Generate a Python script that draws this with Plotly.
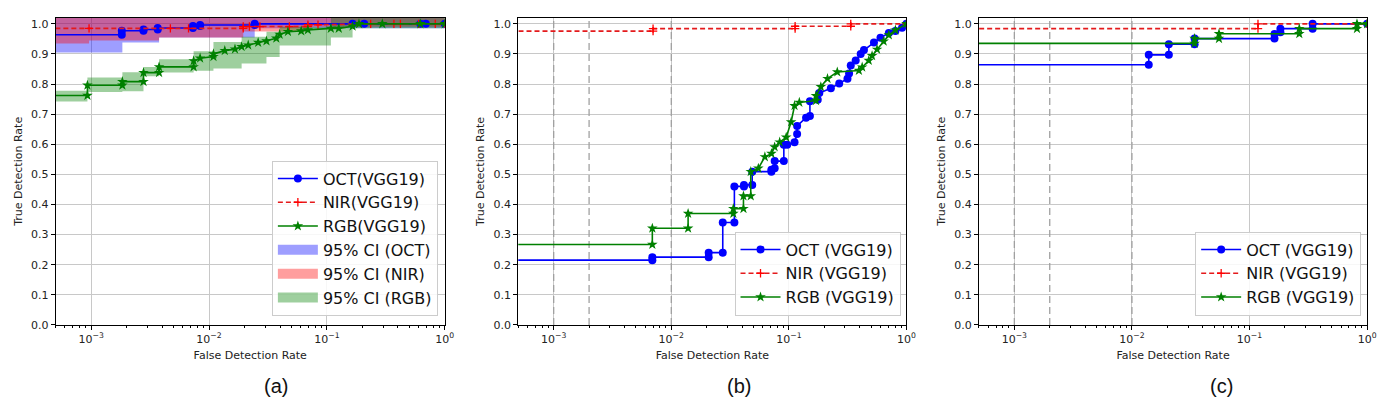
import plotly.graph_objects as go
from plotly.subplots import make_subplots

# ---------------- data ----------------
# (a) ROC corners, fpr=1e-5 stands for the clipped fpr=0 start
a_oct_fpr = [1e-5, 1.82e-3, 1.82e-3, 2.78e-3, 2.78e-3, 3.67e-3, 3.67e-3, 7.3e-3, 7.3e-3,
             8.4e-3, 8.4e-3, 0.0244, 0.0244, 0.165, 0.207, 0.62, 0.69, 1.0]
a_oct_tpr = [0.964, 0.964, 0.977, 0.977, 0.981, 0.981, 0.986, 0.986, 0.993,
             0.993, 0.996, 0.996, 1.0, 1.0, 1.0, 1.0, 1.0, 1.0]
a_nir_fpr = [1e-5, 9.6e-4, 4.7e-3, 6.7e-3, 0.0195, 0.0195, 0.022, 0.027, 0.048, 0.069,
             0.069, 0.084, 0.235, 0.37, 0.42, 0.6, 0.83, 1.0]
a_nir_tpr = [0.985, 0.985, 0.985, 0.985, 0.985, 0.991, 0.991, 0.991, 0.991, 0.991,
             0.997, 0.997, 1.0, 1.0, 1.0, 1.0, 1.0, 1.0]
a_rgb_fpr = [1e-5, 9.3e-4, 9.3e-4, 1.84e-3, 1.84e-3, 2.78e-3, 2.78e-3, 3.77e-3, 3.77e-3,
             7.4e-3, 7.4e-3, 8.4e-3, 0.0109, 0.0109, 0.0136, 0.0166, 0.0189, 0.0215,
             0.0261, 0.0307, 0.0372, 0.0397, 0.0467, 0.0605, 0.0689, 0.108, 0.126,
             0.165, 0.187, 0.295, 0.62, 1.0]
a_rgb_tpr = [0.762, 0.762, 0.796, 0.796, 0.808, 0.808, 0.838, 0.838, 0.857,
             0.857, 0.877, 0.886, 0.891, 0.9, 0.911, 0.916, 0.924, 0.929,
             0.938, 0.943, 0.952, 0.965, 0.974, 0.976, 0.98, 0.985, 0.985,
             0.992, 1.0, 1.0, 1.0, 1.0]

# (a) 95% confidence bands (step functions)
a_oct_ci_fpr = [1e-5, 1.84e-3, 3.77e-3, 0.0244, 1.0]
a_oct_ci_lo = [0.905, 0.938, 0.955, 0.985, 0.985]
a_oct_ci_hi = [1.03, 1.03, 1.03, 1.03, 1.03]
a_nir_ci_fpr = [1e-5, 9.6e-4, 3.77e-3, 0.0195, 0.069, 1.0]
a_nir_ci_lo = [0.935, 0.945, 0.955, 0.975, 0.99, 0.99]
a_nir_ci_hi = [1.03, 1.03, 1.03, 1.03, 1.03, 1.03]
a_rgb_ci_fpr = [1e-5, 9.3e-4, 1.84e-3, 2.78e-3, 3.77e-3, 7.4e-3, 0.0109, 0.0189,
                0.0307, 0.0397, 0.108, 0.165, 1.0]
a_rgb_ci_lo = [0.742, 0.774, 0.776, 0.826, 0.838, 0.844, 0.852, 0.868,
               0.89, 0.928, 0.955, 0.985, 0.985]
a_rgb_ci_hi = [0.778, 0.822, 0.839, 0.857, 0.882, 0.909, 0.94, 0.957,
               0.974, 0.99, 1.03, 1.03, 1.03]

# (b)
b_oct_fpr = [1e-5, 0.0069, 0.0069, 0.0208, 0.0208, 0.0274, 0.0274, 0.0344, 0.0344,
             0.0415, 0.0415, 0.0488, 0.0488, 0.071, 0.071, 0.0757, 0.0757, 0.0906,
             0.0906, 0.0968, 0.1117, 0.1175, 0.1175, 0.14, 0.151, 0.151, 0.176,
             0.1815, 0.2275, 0.268, 0.315, 0.325, 0.336, 0.37, 0.408, 0.435,
             0.529, 0.601, 0.708, 0.805, 0.917, 1.0]
b_oct_tpr = [0.215, 0.215, 0.225, 0.225, 0.24, 0.24, 0.34, 0.34, 0.46,
             0.46, 0.465, 0.465, 0.509, 0.509, 0.515, 0.52, 0.544, 0.544,
             0.598, 0.598, 0.607, 0.634, 0.661, 0.688, 0.694, 0.743, 0.748,
             0.770, 0.786, 0.802, 0.818, 0.835, 0.862, 0.878, 0.9, 0.913,
             0.938, 0.954, 0.97, 0.976, 0.987, 1.0]
b_nir_fpr = [1e-5, 0.007, 0.007, 0.113, 0.113, 0.336, 0.336, 1.0]
b_nir_tpr = [0.976, 0.976, 0.984, 0.984, 0.992, 0.992, 1.0, 1.0]
b_rgb_fpr = [1e-5, 0.0069, 0.0069, 0.0139, 0.0139, 0.0337, 0.0337, 0.0411, 0.0411,
             0.0474, 0.0474, 0.055, 0.0625, 0.0711, 0.0757, 0.0835, 0.0949, 0.1045,
             0.1117, 0.1227, 0.17, 0.17, 0.187, 0.213, 0.258, 0.394, 0.42, 0.478,
             0.51, 0.562, 0.64, 0.708, 0.805, 1.0]
b_rgb_tpr = [0.267, 0.267, 0.321, 0.321, 0.370, 0.370, 0.386, 0.386, 0.428,
             0.428, 0.509, 0.52, 0.558, 0.569, 0.591, 0.607, 0.623, 0.674,
             0.728, 0.739, 0.745, 0.761, 0.791, 0.818, 0.840, 0.845, 0.856, 0.878,
             0.894, 0.915, 0.942, 0.963, 0.979, 1.0]

# (c)
c_oct_fpr = [1e-5, 0.0139, 0.0139, 0.0206, 0.0206, 0.0341, 0.0341, 0.163, 0.163,
             0.183, 0.183, 0.344, 0.344, 1.0]
c_oct_tpr = [0.864, 0.864, 0.897, 0.897, 0.932, 0.932, 0.951, 0.951, 0.966,
             0.972, 0.984, 0.984, 1.0, 1.0]
c_nir_fpr = [1e-5, 0.118, 0.118, 1.0]
c_nir_tpr = [0.984, 0.984, 1.0, 1.0]
c_rgb_fpr = [1e-5, 0.0341, 0.0341, 0.055, 0.055, 0.265, 0.265, 0.82, 0.82, 1.0]
c_rgb_tpr = [0.935, 0.935, 0.951, 0.951, 0.967, 0.967, 0.984, 0.984, 1.0, 1.0]

ref_fdr = [1e-3, 2e-3, 1e-2]
x_ticks = [1e-3, 1e-2, 1e-1, 1.0]
x_ticktext = ["10<sup>\u22123</sup>", "10<sup>\u22122</sup>", "10<sup>\u22121</sup>", "10<sup>0</sup>"]
y_ticks = [0.0, 0.1, 0.2, 0.3, 0.4, 0.5, 0.6, 0.7, 0.8, 0.9, 1.0]
captions = ["(a)", "(b)", "(c)"]

# ---------------- styles ----------------
BLUE, RED, GREEN = "#0000ff", "#ff0000", "#008000"
FONT = "DejaVu Sans"
W, H = 1386, 402

fig = make_subplots(rows=1, cols=3)


def roc(fpr, tpr, name, col, kind, legend, show=True):
    if kind == "oct":
        line = dict(color=BLUE, width=1.6)
        marker = dict(symbol="circle", size=8, color=BLUE)
    elif kind == "nir":
        line = dict(color="#e41a1c", width=1.6, dash="5px,3px")
        marker = dict(symbol="cross-thin", size=6, line=dict(color=RED, width=1.3))
    else:
        line = dict(color=GREEN, width=1.6)
        marker = dict(symbol="star", size=8, color=GREEN)
    fig.add_trace(go.Scatter(x=fpr, y=tpr, mode="lines+markers", name=name,
                             line=line, marker=marker, legend=legend,
                             showlegend=show), row=1, col=col)


def band(fpr, lo, hi, name, rgba, rank):
    fig.add_trace(go.Scatter(x=fpr, y=lo, mode="lines", line=dict(width=0, shape="hv"),
                             showlegend=False, hoverinfo="skip"), row=1, col=1)
    fig.add_trace(go.Scatter(x=fpr, y=hi, mode="lines", line=dict(width=0, shape="hv"),
                             fill="tonexty", fillcolor=rgba, name=name,
                             showlegend=False, hoverinfo="skip"), row=1, col=1)
    # legend swatch: a thick bar reads like matplotlib's patch
    fig.add_trace(go.Scatter(x=[None], y=[None], mode="lines", name=name,
                             line=dict(color=rgba, width=14), legendrank=rank,
                             legend="legend"), row=1, col=1)


# (a) bands first so lines sit on top
band(a_oct_ci_fpr, a_oct_ci_lo, a_oct_ci_hi, "95% CI (OCT)", "rgba(0,0,255,0.38)", 4)
band(a_nir_ci_fpr, a_nir_ci_lo, a_nir_ci_hi, "95% CI (NIR)", "rgba(255,0,0,0.38)", 5)
band(a_rgb_ci_fpr, a_rgb_ci_lo, a_rgb_ci_hi, "95% CI (RGB)", "rgba(0,128,0,0.38)", 6)

roc(a_oct_fpr, a_oct_tpr, "OCT(VGG19)", 1, "oct", "legend")
roc(a_nir_fpr, a_nir_tpr, "NIR(VGG19)", 1, "nir", "legend")
roc(a_rgb_fpr, a_rgb_tpr, "RGB(VGG19)", 1, "rgb", "legend")
for tr, rk in zip(fig.data[-3:], [1, 2, 3]):
    tr.legendrank = rk

# (b) and (c): reference FDR lines
for col in (2, 3):
    for v in ref_fdr:
        fig.add_trace(go.Scatter(x=[v, v], y=[0, 1.05], mode="lines", showlegend=False,
                                 line=dict(color="#a0a0a0", width=1.3, dash="7px,4px"),
                                 hoverinfo="skip"), row=1, col=col)

roc(b_oct_fpr, b_oct_tpr, "OCT (VGG19)", 2, "oct", "legend2")
roc(b_nir_fpr, b_nir_tpr, "NIR (VGG19)", 2, "nir", "legend2")
roc(b_rgb_fpr, b_rgb_tpr, "RGB (VGG19)", 2, "rgb", "legend2")
roc(c_oct_fpr, c_oct_tpr, "OCT (VGG19)", 3, "oct", "legend3")
roc(c_nir_fpr, c_nir_tpr, "NIR (VGG19)", 3, "nir", "legend3")
roc(c_rgb_fpr, c_rgb_tpr, "RGB (VGG19)", 3, "rgb", "legend3")

# ---------------- axes ----------------
x_domains = [(48, 440), (514, 905), (978, 1369)]
y_dom = [1 - 322.5 / H, 1 - 10 / H]
minor_vals = [k * 10 ** e for e in (-4, -3, -2, -1) for k in range(2, 10) if k * 10 ** e >= 5e-4]
tickfont = dict(family=FONT, size=11, color="#222222")
titlefont = dict(family=FONT, size=11, color="#222222")

for i, (x0, x1) in enumerate(x_domains, start=1):
    fig.update_xaxes(
        type="log", range=[-3.301, 0], domain=[x0 / W, x1 / W],
        tickvals=x_ticks, ticktext=x_ticktext, tickfont=tickfont,
        ticks="outside", ticklen=4, tickcolor="black",
        showline=True, mirror=True, linecolor="black", linewidth=1,
        showgrid=True, gridcolor="#c8c8c8", gridwidth=1, zeroline=False,
        minor=dict(tickvals=minor_vals, ticks="outside", ticklen=2, tickcolor="black",
                   showgrid=False),
        title=dict(text="False Detection Rate", font=titlefont, standoff=6),
        row=1, col=i)
    fig.update_yaxes(
        range=[0, 1.02], domain=y_dom, tickvals=y_ticks, tickformat=".1f",
        tickfont=tickfont, ticks="outside", ticklen=4, tickcolor="black",
        showline=True, mirror=True, linecolor="black", linewidth=1,
        showgrid=True, gridcolor="#c8c8c8", gridwidth=1, zeroline=False,
        title=dict(text="True Detection Rate", font=titlefont, standoff=6),
        row=1, col=i)

legend_style = dict(bgcolor="rgba(255,255,255,0.85)", bordercolor="#cccccc", borderwidth=1,
                    font=dict(family=FONT, size=16, color="#111111"),
                    xanchor="right", yanchor="bottom", itemwidth=40, traceorder="normal")

fig.update_layout(
    width=W, height=H,
    margin=dict(l=0, r=0, t=0, b=0),
    paper_bgcolor="white", plot_bgcolor="white",
    font=dict(family=FONT),
    legend=dict(x=433 / W, y=1 - 313 / H, **legend_style),
    legend2=dict(x=899 / W, y=1 - 313 / H, **legend_style),
    legend3=dict(x=1363 / W, y=1 - 313 / H, **legend_style),
    hovermode="closest",
)

for txt, cx in zip(captions, [270, 736, 1222]):
    fig.add_annotation(text=txt, x=cx / W, y=1 - 385 / H, xref="paper", yref="paper",
                       showarrow=False, font=dict(family="Liberation Sans", size=20, color="#111111"),
                       xanchor="center", yanchor="middle")

fig.write_html("out.html")
